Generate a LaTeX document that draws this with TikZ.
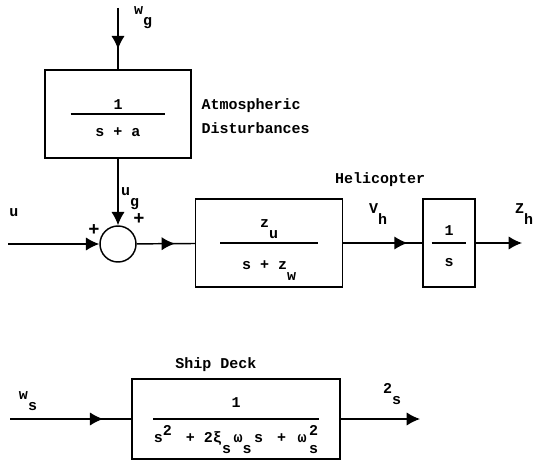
\documentclass[tikz,border=0pt]{standalone}
\usepackage{fontspec}
\setmonofont{Liberation Mono}
\usetikzlibrary{arrows.meta,decorations.markings}
\newcommand{\lo}[1]{\raisebox{-1.4ex}{#1}}
\newcommand{\hi}[1]{\raisebox{0.9ex}{#1}}
% fraction: width, gap above bar, gap below bar, numerator, denominator
\newcommand{\blkfrac}[5]{\vbox{\kern\dimexpr#3+3pt-#2\relax
  \hbox to #1{\hss\smash{#4}\hss}\kern#2\hrule height 1.1pt\kern#3
  \hbox to #1{\hss\smash{#5}\hss}\kern3pt}}

\begin{document}
\begin{tikzpicture}[x=0.75pt, y=-0.75pt, >={Latex[length=10pt,width=10pt]},
  every node/.style={font=\ttfamily\bfseries\fontsize{11.25}{13}\selectfont},
  blk/.style={draw, line width=1.1pt, inner sep=0pt},
  sig/.style={line width=1.1pt},
  sgn/.style={font=\ttfamily\bfseries\fontsize{14}{14}\selectfont, inner sep=0pt},
  midarrow/.style={postaction={decorate}, decoration={markings, mark=at position #1 with {\arrow{>}}}}]
  \useasboundingbox (0,0) rectangle (534,466);
  % blocks
  \node[blk, minimum width=109.5pt, minimum height=66pt] (atm) at (118,114) {\blkfrac{71pt}{3pt}{16pt}{1}{s + a}};
  \node[blk, circle, minimum size=27pt] (sum) at (118,244) {};
  \node[blk, minimum width=110pt, minimum height=66pt] (heli) at (269,243) {\blkfrac{73.5pt}{11pt}{19pt}{z\lo{u}}{s + z\lo{w}}};
  \node[blk, minimum width=39pt, minimum height=66pt] (integ) at (449,243) {\blkfrac{26pt}{5pt}{17pt}{1}{s}};
  \node[blk, minimum width=156pt, minimum height=60pt] (ship) at (236,419) {\blkfrac{124pt}{8pt}{17pt}{1}{s\hi{2}\,\, + 2ξ\lo{s}\,ω\lo{s}\,s\,\, + \,ω\,\rlap{\hi{2}}\lo{s}}};
  % labels
  \node (wglab) at (143,18) {w\lo{g}};
  \node[align=left, anchor=west, font=\ttfamily\bfseries\fontsize{11.25}{18}\selectfont] (atmlab) at (197,116) {Atmospheric\\Disturbances};
  \node (uglab) at (130,199) {u\lo{g}};
  \node[sgn] (plusg) at (139,219) {+};
  \node[sgn] (plusu) at (94,230) {+};
  \node (ulab) at (14,213) {u};
  \node (helilab) at (380,180) {Helicopter};
  \node (vhlab) at (378,214) {V\lo{h}};
  \node (zhlab) at (524,214) {Z\lo{h}};
  \node (shiplab) at (216,365) {Ship Deck};
  \node (wslab) at (28,401) {w\lo{s}};
  \node (zslab) at (392,394) {2\lo{s}};
  % signals
  \coordinate (wgin) at (118,8);
  \coordinate (uin) at (8,244);
  \coordinate (zhout) at (522,243);
  \coordinate (wsin) at (10,419);
  \coordinate (zsout) at (420,419);
  \draw[sig, midarrow=-15pt] (wgin) -- (atm);
  \draw[sig, ->] (atm) -- (sum);
  \draw[sig, ->] (uin) -- (sum);
  \draw[sig, midarrow=-15pt] (sum) -- (heli);
  \draw[sig, midarrow=-11pt] (heli) -- (integ);
  \draw[sig, ->] (integ) -- (zhout);
  \draw[sig, midarrow=-21pt] (wsin) -- (ship);
  \draw[sig, ->] (ship) -- (zsout);
\end{tikzpicture}
\end{document}
